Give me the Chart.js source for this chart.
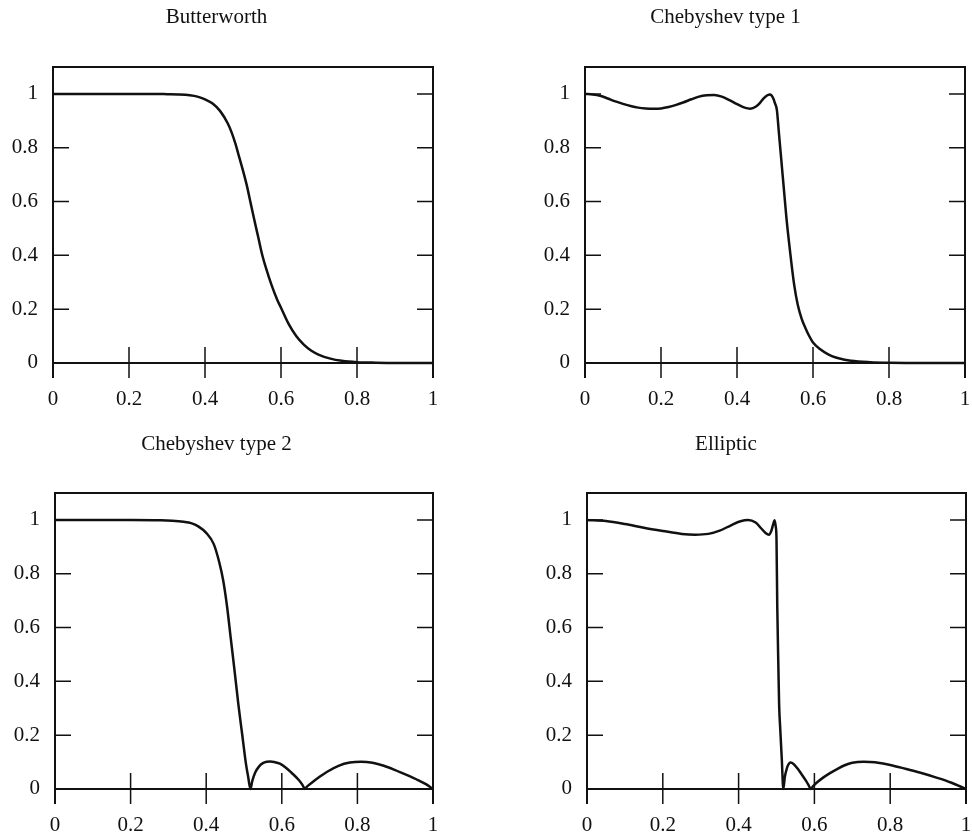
<!DOCTYPE html>
<html>
<head>
<meta charset="utf-8">
<title>Lowpass filter magnitude responses</title>
<script src="https://cdn.jsdelivr.net/npm/chart.js@4.4.1/dist/chart.umd.min.js"></script>
<style>
  body { margin: 0; background: #fff; }
  #wrap { position: relative; width: 972px; height: 837px; background: #fff; }
  canvas { position: absolute; }
</style>
</head>
<body>
<div id="wrap">
  <canvas id="bw" width="486" height="420" style="left:0;top:0"></canvas>
  <canvas id="cheby1" width="486" height="420" style="left:486px;top:0"></canvas>
  <canvas id="cheby2" width="486" height="417" style="left:0;top:420px"></canvas>
  <canvas id="ellip" width="486" height="417" style="left:486px;top:420px"></canvas>
</div>
<script>
// tick positions shared by every panel
const xTicks = [0, 0.2, 0.4, 0.6, 0.8, 1];
const yTicks = [0, 0.2, 0.4, 0.6, 0.8, 1];

// normalized frequency / magnitude pairs for each design
const bwFreq = [0, 0.05, 0.1, 0.15, 0.2, 0.25, 0.3, 0.33, 0.36, 0.38, 0.4, 0.42, 0.44, 0.46, 0.47,
  0.48, 0.49, 0.5, 0.51, 0.52, 0.53, 0.54, 0.55, 0.56, 0.575, 0.59, 0.6, 0.62, 0.64, 0.66,
  0.68, 0.7, 0.73, 0.76, 0.8, 0.85, 0.9, 1];
const bwMag = [1, 1, 1, 1, 1, 1, 0.999, 0.998, 0.995, 0.99, 0.98, 0.964, 0.936, 0.89, 0.857,
  0.815, 0.765, 0.715, 0.66, 0.595, 0.53, 0.468, 0.405, 0.355, 0.29, 0.235, 0.205, 0.145, 0.1, 0.068,
  0.045, 0.03, 0.016, 0.008, 0.003, 0.001, 0, 0];

const cheby1Freq = [0, 0.02, 0.04, 0.06, 0.08, 0.1, 0.12, 0.14, 0.16, 0.18, 0.2, 0.22, 0.24, 0.26, 0.28,
  0.3, 0.32, 0.34, 0.36, 0.38, 0.4, 0.42, 0.435, 0.45, 0.46, 0.47, 0.48, 0.487, 0.495, 0.5,
  0.505, 0.51, 0.515, 0.52, 0.525, 0.53, 0.54, 0.55, 0.56, 0.57, 0.58, 0.59, 0.6, 0.62, 0.64,
  0.66, 0.68, 0.7, 0.75, 0.8, 0.9, 1];
const cheby1Mag = [1, 0.998, 0.993, 0.983, 0.972, 0.963, 0.955, 0.949, 0.946, 0.945, 0.946, 0.951, 0.959, 0.969, 0.98,
  0.99, 0.995, 0.996, 0.99, 0.977, 0.962, 0.949, 0.945, 0.953, 0.966, 0.983, 0.995, 0.998, 0.985, 0.965,
  0.94, 0.86, 0.78, 0.7, 0.62, 0.54, 0.41, 0.295, 0.215, 0.165, 0.13, 0.1, 0.076, 0.05, 0.032,
  0.02, 0.013, 0.008, 0.003, 0.001, 0, 0];

const cheby2Freq = [0, 0.1, 0.2, 0.28, 0.31, 0.34, 0.36, 0.38, 0.4, 0.42, 0.435, 0.445, 0.455, 0.465, 0.475,
  0.485, 0.495, 0.505, 0.511, 0.517, 0.522, 0.53, 0.54, 0.55, 0.56, 0.57, 0.58, 0.595, 0.61, 0.625,
  0.645, 0.655, 0.661, 0.666, 0.68, 0.7, 0.72, 0.75, 0.78, 0.81, 0.84, 0.87, 0.9, 0.93, 0.96,
  0.98, 1];
const cheby2Mag = [1, 1, 1, 0.999, 0.997, 0.993, 0.988, 0.975, 0.952, 0.91, 0.84, 0.775, 0.68, 0.56, 0.44,
  0.315, 0.205, 0.095, 0.045, 0, 0.03, 0.062, 0.084, 0.096, 0.101, 0.102, 0.1, 0.094, 0.08, 0.061,
  0.033, 0.014, 0, 0.008, 0.024, 0.045, 0.064, 0.086, 0.098, 0.101, 0.097, 0.086, 0.07, 0.052, 0.033,
  0.019, 0];

const ellipFreq = [0, 0.05, 0.1, 0.15, 0.2, 0.25, 0.285, 0.32, 0.35, 0.38, 0.405, 0.425, 0.445, 0.46, 0.472,
  0.48, 0.486, 0.491, 0.495, 0.498, 0.5, 0.502, 0.505, 0.507, 0.51, 0.514, 0.518, 0.522, 0.527, 0.532,
  0.537, 0.545, 0.557, 0.567, 0.578, 0.585, 0.59, 0.595, 0.605, 0.623, 0.64, 0.66, 0.68, 0.7, 0.73,
  0.76, 0.8, 0.84, 0.88, 0.92, 0.96, 1];
const ellipMag = [1, 0.996, 0.985, 0.971, 0.959, 0.948, 0.945, 0.948, 0.96, 0.98, 0.995, 1, 0.99, 0.968, 0.95,
  0.945, 0.958, 0.982, 0.999, 0.975, 0.93, 0.68, 0.45, 0.31, 0.22, 0.11, 0, 0.045, 0.075, 0.092,
  0.098, 0.093, 0.073, 0.053, 0.03, 0.013, 0, 0.008, 0.022, 0.042, 0.058, 0.074, 0.088, 0.097, 0.101,
  0.099, 0.089, 0.075, 0.06, 0.043, 0.024, 0];

const ink = '#111111';
const serif = '"Liberation Serif", "DejaVu Serif", serif';

// box on three sides, zero line and inward tick marks
const frame = {
  id: 'frame',
  afterDatasetsDraw(chart) {
    const ctx = chart.ctx;
    const a = chart.chartArea;
    const x = chart.scales.x, y = chart.scales.y;
    const y0 = y.getPixelForValue(0);
    ctx.save();
    ctx.strokeStyle = ink;
    ctx.lineWidth = 2;
    ctx.beginPath();
    ctx.moveTo(a.left, a.bottom);
    ctx.lineTo(a.left, a.top);
    ctx.lineTo(a.right, a.top);
    ctx.lineTo(a.right, a.bottom);
    ctx.moveTo(a.left, y0);
    ctx.lineTo(a.right, y0);
    ctx.stroke();
    ctx.lineWidth = 1.5;
    ctx.beginPath();
    yTicks.forEach(v => {
      if (v === 0) return;
      const p = y.getPixelForValue(v);
      ctx.moveTo(a.left, p); ctx.lineTo(a.left + 16, p);
      ctx.moveTo(a.right, p); ctx.lineTo(a.right - 16, p);
    });
    xTicks.forEach(v => {
      if (v === 0 || v === 1) return;
      const p = x.getPixelForValue(v);
      ctx.moveTo(p, a.bottom); ctx.lineTo(p, a.bottom - 31);
    });
    ctx.stroke();
    ctx.restore();
  }
};

function drawPanel(id, title, freq, mag, yAxisWidth, padRight, titlePad, xAxisHeight) {
  new Chart(document.getElementById(id), {
    type: 'line',
    data: {
      datasets: [{
        data: freq.map((f, i) => ({ x: f, y: mag[i] })),
        borderColor: ink,
        borderWidth: 2.5,
        borderJoinStyle: 'round',
        borderCapStyle: 'round',
        pointRadius: 0,
        fill: false,
        cubicInterpolationMode: 'monotone'
      }]
    },
    options: {
      responsive: false,
      animation: false,
      devicePixelRatio: 1,
      layout: { padding: { left: 0, right: padRight, top: 0, bottom: 0 } },
      plugins: {
        legend: { display: false },
        tooltip: { enabled: false },
        title: {
          display: true,
          text: title,
          color: ink,
          font: { family: serif, size: 21, weight: 'normal' },
          padding: titlePad
        }
      },
      scales: {
        x: {
          type: 'linear',
          min: 0,
          max: 1,
          afterBuildTicks: s => { s.ticks = xTicks.map(v => ({ value: v })); },
          afterFit: s => { s.height = xAxisHeight; s.paddingLeft = 0; s.paddingRight = 0; },
          grid: { display: false, drawTicks: false },
          border: { display: false },
          ticks: {
            color: ink,
            font: { family: serif, size: 21 },
            padding: 9,
            maxRotation: 0,
            autoSkip: false,
            callback: v => String(v)
          }
        },
        y: {
          min: -0.056,
          max: 1.1,
          afterBuildTicks: s => { s.ticks = yTicks.map(v => ({ value: v })); },
          afterFit: s => { s.width = yAxisWidth; s.paddingTop = 0; s.paddingBottom = 0; },
          grid: { display: false, drawTicks: false },
          border: { display: false },
          ticks: {
            color: ink,
            font: { family: serif, size: 21 },
            padding: 15,
            autoSkip: false,
            callback: v => String(v)
          }
        }
      }
    },
    plugins: [frame]
  });
}

drawPanel('bw', 'Butterworth', bwFreq, bwMag, 53, 53, { top: 4.4, bottom: 37.4 }, 42);
drawPanel('cheby1', 'Chebyshev type 1', cheby1Freq, cheby1Mag, 99, 7, { top: 4.4, bottom: 37.4 }, 42);
drawPanel('cheby2', 'Chebyshev type 2', cheby2Freq, cheby2Mag, 55, 53, { top: 11.4, bottom: 36.4 }, 33);
drawPanel('ellip', 'Elliptic', ellipFreq, ellipMag, 101, 6, { top: 11.4, bottom: 36.4 }, 33);
</script>
</body>
</html>
